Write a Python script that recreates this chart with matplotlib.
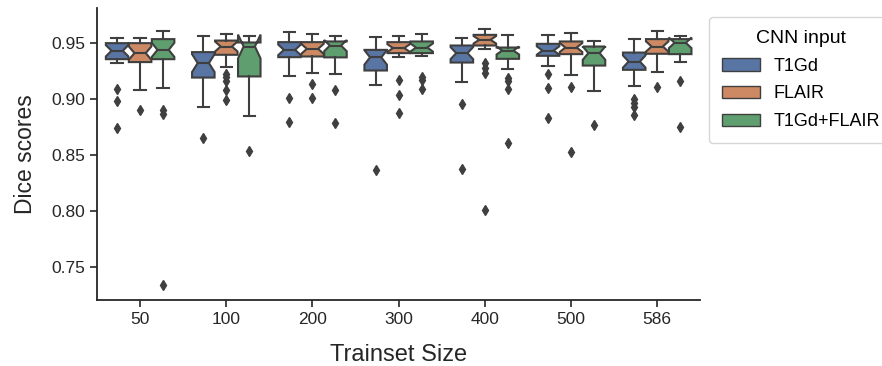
import numpy as np
import colorsys
import matplotlib
matplotlib.use("Agg")
import matplotlib.pyplot as plt
import matplotlib.colors as mcolors
from matplotlib.patches import Patch

plt.rcParams['font.family'] = ['Liberation Sans', 'DejaVu Sans']

categories = ["50", "100", "200", "300", "400", "500", "586"]
hues = ["T1Gd", "FLAIR", "T1Gd+FLAIR"]
base_colors = ["#4C72B0", "#DD8452", "#55A868"]

# per hue: one value per category
q1 = {
    "T1Gd":       [0.9354, 0.9190, 0.9372, 0.9253, 0.9324, 0.9384, 0.9259],
    "FLAIR":      [0.9328, 0.9393, 0.9378, 0.9408, 0.9476, 0.9399, 0.9402],
    "T1Gd+FLAIR": [0.9354, 0.9200, 0.9370, 0.9408, 0.9357, 0.9297, 0.9399],
}
med = {
    "T1Gd":       [0.9429, 0.9319, 0.9437, 0.9370, 0.9408, 0.9431, 0.9333],
    "FLAIR":      [0.9408, 0.9467, 0.9446, 0.9453, 0.9527, 0.9458, 0.9467],
    "T1Gd+FLAIR": [0.9437, 0.9467, 0.9475, 0.9458, 0.9431, 0.9408, 0.9500],
}
q3 = {
    "T1Gd":       [0.9497, 0.9417, 0.9506, 0.9437, 0.9476, 0.9491, 0.9413],
    "FLAIR":      [0.9497, 0.9520, 0.9506, 0.9506, 0.9571, 0.9512, 0.9533],
    "T1Gd+FLAIR": [0.9533, 0.9503, 0.9512, 0.9512, 0.9458, 0.9467, 0.9533],
}
whislo = {
    "T1Gd":       [0.9319, 0.8926, 0.9200, 0.9125, 0.9150, 0.9295, 0.9116],
    "FLAIR":      [0.9080, 0.9280, 0.9235, 0.9369, 0.9446, 0.9214, 0.9244],
    "T1Gd+FLAIR": [0.9100, 0.8848, 0.9223, 0.9378, 0.9265, 0.9071, 0.9333],
}
whishi = {
    "T1Gd":       [0.9542, 0.9565, 0.9595, 0.9551, 0.9542, 0.9571, 0.9533],
    "FLAIR":      [0.9542, 0.9580, 0.9580, 0.9563, 0.9622, 0.9587, 0.9607],
    "T1Gd+FLAIR": [0.9601, 0.9565, 0.9565, 0.9580, 0.9571, 0.9512, 0.9563],
}
fliers = {
    "T1Gd": [
        [0.9087, 0.8982, 0.8738],
        [0.8650],
        [0.9006, 0.8792],
        [0.8366],
        [0.8953, 0.8372],
        [0.9223, 0.9095, 0.8828],
        [0.8997, 0.8962, 0.8926, 0.8857],
    ],
    "FLAIR": [
        [0.8900],
        [0.9220, 0.9194, 0.9155, 0.9080, 0.8990],
        [0.9134, 0.9006],
        [0.9170, 0.9036, 0.8872],
        [0.9320, 0.9274, 0.9230, 0.8010],
        [0.9104, 0.8530],
        [0.9110],
    ],
    "T1Gd+FLAIR": [
        [0.8900, 0.8863, 0.7340],
        [0.8538],
        [0.9080, 0.8783],
        [0.9194, 0.9170, 0.9087],
        [0.9190, 0.9160, 0.9087, 0.8610],
        [0.8768],
        [0.9160, 0.8753],
    ],
}
n_cases = 20  # cases per box, used for notch confidence interval


def desaturate(c, prop=0.75):
    r, g, b = mcolors.to_rgb(c)
    h, l, s = colorsys.rgb_to_hls(r, g, b)
    return colorsys.hls_to_rgb(h, l, s * prop)


colors = [desaturate(c) for c in base_colors]

fig = plt.figure(figsize=(8.82, 3.66), dpi=100)
ax = fig.add_axes([0.110, 0.180, 0.684, 0.798])

edge = "#3f3f3f"
nh = len(hues)
group_w = 0.8
box_w = group_w / nh
for h, (hue, col) in enumerate(zip(hues, colors)):
    stats = []
    for i in range(len(categories)):
        iqr = q3[hue][i] - q1[hue][i]
        half = 1.57 * iqr / np.sqrt(n_cases)
        stats.append(dict(
            med=med[hue][i], q1=q1[hue][i], q3=q3[hue][i],
            whislo=whislo[hue][i], whishi=whishi[hue][i],
            fliers=np.array(fliers[hue][i]),
            cilo=med[hue][i] - half, cihi=med[hue][i] + half,
        ))
    pos = np.arange(len(categories)) - group_w / 2 + box_w * (h + 0.5)
    ax.bxp(stats, positions=pos, widths=box_w * 0.98, shownotches=True,
           patch_artist=True, manage_ticks=False,
           boxprops=dict(facecolor=col, edgecolor=edge, linewidth=1.5),
           medianprops=dict(color=edge, linewidth=1.5),
           whiskerprops=dict(color=edge, linewidth=1.5),
           capprops=dict(color=edge, linewidth=1.5),
           flierprops=dict(marker="d", markerfacecolor=edge, markeredgecolor=edge,
                           markersize=5, linestyle="none"))

ax.set_xlim(-0.5, len(categories) - 0.5)
ax.set_ylim(0.7205, 0.981)
ax.set_xticks(np.arange(len(categories)))
ax.set_xticklabels(categories)
ax.set_yticks([0.75, 0.80, 0.85, 0.90, 0.95])
ax.set_yticklabels(["0.75", "0.80", "0.85", "0.90", "0.95"])
ax.tick_params(axis="both", labelsize=12.5, colors="#262626", length=5, width=1.2)
for s in ["top", "right"]:
    ax.spines[s].set_visible(False)
for s in ["left", "bottom"]:
    ax.spines[s].set_color("#262626")
    ax.spines[s].set_linewidth(1.3)
ax.set_xlabel("Trainset Size", fontsize=17, color="#262626", labelpad=12)
ax.set_ylabel("Dice scores", fontsize=16.5, color="#262626", labelpad=10)

handles = [Patch(facecolor=c, edgecolor=edge, linewidth=1.0) for c in colors]
leg = ax.legend(handles, hues, title="CNN input", loc="upper left",
                bbox_to_anchor=(1.0, 1.0), fontsize=13, title_fontsize=14,
                frameon=True, fancybox=True, handlelength=2.1,
                handletextpad=0.75, labelspacing=0.6, borderpad=0.7,
                borderaxespad=0.5)
leg.get_frame().set_edgecolor("#cccccc")

fig.savefig("out.png", dpi=100)
